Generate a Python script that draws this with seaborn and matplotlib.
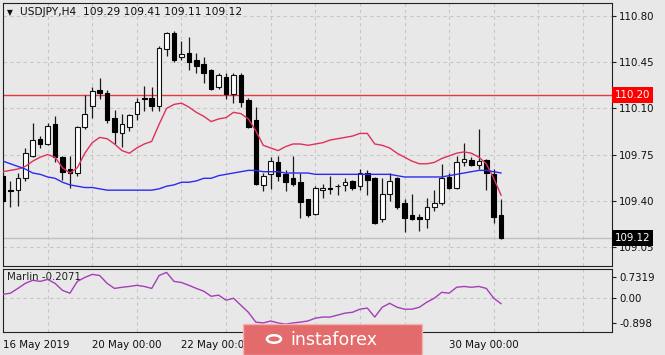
import matplotlib
matplotlib.use("Agg")
import matplotlib.pyplot as plt
import matplotlib.transforms as mtransforms
from matplotlib.patches import Rectangle, Circle
import seaborn as sns
import numpy as np
import pandas as pd

# ---------------- data ----------------
opens = [109.59, 109.48, 109.48, 109.57, 109.74, 109.87, 109.83, 109.98, 109.73, 109.64,
         109.61, 109.96, 110.12, 110.24, 110.22, 110.03, 109.91, 109.96, 110.06, 110.18,
         110.18, 110.12, 110.55, 110.67, 110.49, 110.52, 110.47, 110.44, 110.39, 110.26,
         110.34, 110.21, 110.35, 110.16, 110.01, 109.52, 109.60, 109.69, 109.60, 109.57,
         109.54, 109.41, 109.30, 109.48, 109.50, 109.51, 109.52, 109.55, 109.51, 109.61,
         109.57, 109.26, 109.45, 109.57, 109.38, 109.29, 109.28, 109.26, 109.35, 109.38,
         109.58, 109.50, 109.69, 109.71, 109.67, 109.71, 109.60, 109.29]
highs = [109.61, 109.55, 109.61, 109.80, 109.99, 109.89, 109.99, 110.04, 109.74, 109.74,
         109.97, 110.20, 110.26, 110.33, 110.24, 110.09, 110.06, 110.06, 110.18, 110.27,
         110.26, 110.57, 110.68, 110.69, 110.61, 110.64, 110.52, 110.49, 110.40, 110.37,
         110.37, 110.37, 110.37, 110.18, 110.11, 109.61, 109.73, 109.74, 109.63, 109.74,
         109.61, 109.41, 109.51, 109.53, 109.59, 109.53, 109.57, 109.56, 109.64, 109.63,
         109.58, 109.57, 109.61, 109.58, 109.41, 109.45, 109.30, 109.42, 109.48, 109.68,
         109.61, 109.74, 109.84, 109.73, 109.94, 109.72, 109.64, 109.41]
lows = [109.38, 109.35, 109.36, 109.55, 109.73, 109.80, 109.82, 109.69, 109.56, 109.50,
        109.59, 109.94, 110.03, 110.17, 109.99, 109.83, 109.81, 109.93, 110.01, 110.08,
        110.08, 110.08, 110.50, 110.45, 110.47, 110.39, 110.37, 110.29, 110.24, 110.25,
        110.17, 110.14, 110.11, 109.95, 109.52, 109.47, 109.49, 109.55, 109.47, 109.51,
        109.27, 109.28, 109.29, 109.42, 109.45, 109.44, 109.47, 109.48, 109.48, 109.44,
        109.22, 109.24, 109.40, 109.34, 109.16, 109.25, 109.17, 109.19, 109.32, 109.37,
        109.49, 109.49, 109.66, 109.66, 109.64, 109.48, 109.23, 109.11]
closes = [109.40, 109.47, 109.57, 109.76, 109.86, 109.83, 109.97, 109.73, 109.62, 109.61,
          109.96, 110.06, 110.23, 110.22, 110.01, 109.92, 109.98, 110.05, 110.15, 110.17,
          110.12, 110.56, 110.67, 110.47, 110.51, 110.45, 110.42, 110.37, 110.25, 110.35,
          110.21, 110.35, 110.15, 109.96, 109.53, 109.59, 109.70, 109.59, 109.54, 109.53,
          109.39, 109.29, 109.50, 109.50, 109.49, 109.51, 109.54, 109.50, 109.61, 109.56,
          109.23, 109.45, 109.55, 109.35, 109.27, 109.26, 109.26, 109.35, 109.38, 109.57,
          109.50, 109.69, 109.72, 109.67, 109.70, 109.61, 109.28, 109.12]
ma_fast = [109.62, 109.63, 109.64, 109.66, 109.70, 109.73, 109.75, 109.73, 109.65, 109.61,
           109.65, 109.76, 109.84, 109.88, 109.87, 109.83, 109.78, 109.76, 109.80, 109.83,
           109.85, 109.98, 110.10, 110.13, 110.14, 110.11, 110.07, 110.04, 110.00, 110.02,
           110.03, 110.07, 110.06, 110.02, 109.93, 109.82, 109.80, 109.78, 109.81, 109.83,
           109.83, 109.82, 109.83, 109.84, 109.86, 109.87, 109.88, 109.89, 109.91, 109.91,
           109.83, 109.82, 109.80, 109.76, 109.73, 109.70, 109.68, 109.68, 109.69, 109.72,
           109.74, 109.76, 109.77, 109.76, 109.73, 109.68, 109.57, 109.44]
ma_slow = [109.70, 109.68, 109.66, 109.64, 109.61, 109.60, 109.58, 109.57, 109.54, 109.52,
           109.51, 109.50, 109.50, 109.49, 109.48, 109.48, 109.48, 109.48, 109.48, 109.48,
           109.48, 109.49, 109.51, 109.52, 109.54, 109.54, 109.55, 109.57, 109.57, 109.59,
           109.60, 109.61, 109.62, 109.63, 109.63, 109.62, 109.62, 109.62, 109.61, 109.61,
           109.61, 109.61, 109.60, 109.60, 109.60, 109.60, 109.60, 109.60, 109.60, 109.60,
           109.60, 109.60, 109.60, 109.59, 109.58, 109.58, 109.58, 109.58, 109.58, 109.58,
           109.59, 109.60, 109.61, 109.62, 109.63, 109.63, 109.62, 109.61]
marlin = [0.13, 0.17, 0.34, 0.52, 0.63, 0.59, 0.66, 0.52, 0.27, 0.17,
          0.59, 0.73, 0.84, 0.80, 0.52, 0.34, 0.38, 0.41, 0.45, 0.41,
          0.34, 0.80, 0.91, 0.59, 0.55, 0.45, 0.34, 0.24, 0.06, 0.10,
          -0.08, -0.01, -0.26, -0.51, -0.86, -0.89, -0.82, -0.89, -0.93, -0.89,
          -0.86, -0.82, -0.72, -0.68, -0.68, -0.61, -0.54, -0.51, -0.40, -0.36,
          -0.68, -0.33, -0.19, -0.33, -0.40, -0.40, -0.33, -0.15, -0.01, 0.20,
          0.17, 0.38, 0.41, 0.38, 0.41, 0.34, -0.01, -0.2071]

price_ticks = [110.80, 110.45, 110.10, 109.75, 109.40, 109.05]
price_tick_labels = ["110.80", "110.45", "110.10", "109.75", "109.40", "109.05"]
marlin_ticks = [0.7319, 0.00, -0.898]
marlin_tick_labels = ["0.7319", "0.00", "-0.898"]
date_ticks = [0, 12, 24, 60]
date_labels = ["16 May 2019", "20 May 00:00", "22 May 00:00", "30 May 00:00"]
level_line = 110.20
level_label = "110.20"
last_price = 109.12
last_label = "109.12"
title_text = "USDJPY,H4  109.29 109.41 109.11 109.12"
marlin_text = "Marlin -0.2071"
watermark = "instaforex"

# ---------------- style ----------------
sns.set_theme(style="white")
plt.rcParams['font.family'] = ['DejaVu Sans']
BG = "#e8e8e8"
GRID = "#c6c6c6"
FS = 7.4

W, H = 665, 355
fig = plt.figure(figsize=(W / 100, H / 100), dpi=100)
fig.patch.set_facecolor(BG)

ax = fig.add_axes([3 / W, 1 - 266 / H, 609 / W, 263 / H])
ax2 = fig.add_axes([3 / W, 1 - 332 / H, 609 / W, (332 - 268.5) / H])

df = pd.DataFrame({"i": np.arange(len(opens)), "open": opens, "high": highs,
                   "low": lows, "close": closes, "fast": ma_fast, "slow": ma_slow,
                   "marlin": marlin})

x0, x1 = 0.05, 0.05 + 609 / 7.44
for a in (ax, ax2):
    a.set_facecolor(BG)
    a.set_xlim(x0, x1)
    for s in a.spines.values():
        s.set_color("#202020")
        s.set_linewidth(0.8)
    a.set_xticks(np.arange(0, 84, 6), minor=True)
    a.grid(which="minor", axis="x", color=GRID, linestyle=(0, (3, 3)), linewidth=0.8)
    a.tick_params(which="minor", length=0)
    a.set_axisbelow(True)

# ---------------- main panel ----------------
ax.set_ylim(108.905, 110.899)
ax.yaxis.tick_right()
ax.set_yticks(price_ticks)
ax.set_yticklabels(price_tick_labels)
ax.set_xticks([])
ax.tick_params(axis="y", which="major", direction="out", length=3, width=0.8,
               color="#202020", labelsize=FS, pad=2.2, labelcolor="#101010")
ax.grid(which="major", axis="y", color=GRID, linestyle=(0, (3, 3)), linewidth=0.8)

# bid line and level line
ax.axhline(last_price, color="#c0c0c0", linewidth=1.0, zorder=1)
ax.axhline(level_line, color="#e83a3a", linewidth=1.0, zorder=1.5)

# candles
bull = df["close"] >= df["open"]
ax.vlines(df["i"], df["low"], df["high"], color="#1a1a1a", linewidth=0.9, zorder=2)
body_bot = np.minimum(df["open"], df["close"])
body_h = np.maximum(np.abs(df["close"] - df["open"]), 0.004)
ax.bar(df["i"][bull], body_h[bull], bottom=body_bot[bull], width=0.62,
       color="white", edgecolor="#111111", linewidth=0.8, zorder=3)
ax.bar(df["i"][~bull], body_h[~bull], bottom=body_bot[~bull], width=0.62,
       color="black", edgecolor="black", linewidth=0.8, zorder=3)

sns.lineplot(data=df, x="i", y="fast", ax=ax, color="#e0305a", linewidth=1.0,
             zorder=4, legend=False)
sns.lineplot(data=df, x="i", y="slow", ax=ax, color="#2b2bf0", linewidth=1.0,
             zorder=4, legend=False)
ax.set_xlabel("")
ax.set_ylabel("")

blend = mtransforms.blended_transform_factory(ax.transAxes, ax.transData)
ax.text(1.0045, level_line, level_label, transform=blend, ha="left", va="center",
        fontsize=FS, color="white", clip_on=False, zorder=10,
        bbox=dict(boxstyle="square,pad=0.28", fc="#ff0000", ec="none"))
ax.text(1.0045, last_price, last_label, transform=blend, ha="left", va="center",
        fontsize=FS, color="white", clip_on=False, zorder=10,
        bbox=dict(boxstyle="square,pad=0.28", fc="#000000", ec="none"))

# title
fig.text(7 / W, 1 - 12.3 / H, "\u25BC", fontsize=5.5, color="#101010", va="center", ha="left")
fig.text(20 / W, 1 - 12.3 / H, title_text, fontsize=FS + 0.3, color="#101010",
         va="center", ha="left")

# ---------------- lower panel ----------------
ax2.set_ylim(-1.212, 1.049)
sns.lineplot(data=df, x="i", y="marlin", ax=ax2, color="#a63db8", linewidth=1.0,
             zorder=4, legend=False)
ax2.set_xlabel("")
ax2.set_ylabel("")
ax2.axhline(0.0, color=GRID, linestyle=(0, (3, 3)), linewidth=0.8, zorder=1)
ax2.yaxis.tick_right()
ax2.set_yticks(marlin_ticks)
ax2.set_yticklabels(marlin_tick_labels)
ax2.tick_params(axis="y", which="major", direction="out", length=3, width=0.8,
                color="#202020", labelsize=FS, pad=2.2, labelcolor="#101010")
ax2.set_xticks(date_ticks)
ax2.set_xticklabels(date_labels, ha="left")
ax2.tick_params(axis="x", which="major", direction="out", length=3, width=0.8,
                color="#202020", labelsize=FS, pad=2.5, labelcolor="#101010")
ax2.text(0.007, 0.86, marlin_text, transform=ax2.transAxes, fontsize=FS,
         color="#202020", ha="left", va="center")

# ---------------- watermark ----------------
fig.patches.append(Rectangle((243 / W, 0), (422 - 243) / W, (355 - 324) / H,
                             transform=fig.transFigure, facecolor="#e36b6b",
                             edgecolor="#f2b3b3", linewidth=1.0, zorder=20))
fig.patches.append(Circle((274 / W, 1 - 339 / H), 7 / W, transform=fig.transFigure,
                          facecolor="none", edgecolor="white", linewidth=1.8, zorder=21))
fig.text(290 / W, 1 - 340 / H, watermark, fontsize=12.5, color="white",
         ha="left", va="center", zorder=22)

fig.savefig("out.png", dpi=100, facecolor=BG)
